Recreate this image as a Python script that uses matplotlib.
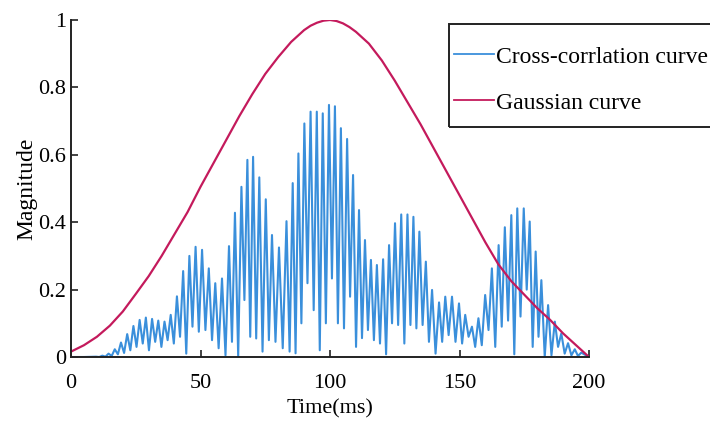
import matplotlib
matplotlib.use("Agg")
import matplotlib.pyplot as plt
from matplotlib.patches import Rectangle
import numpy as np

# cross-correlation curve: local maxima
peak_t = [9.7, 12.1, 14.5, 16.9, 19.3, 21.7, 24.1, 26.5, 28.9, 31.3, 33.7, 36.1,
          38.5, 40.9, 43.3, 45.7, 48.1, 50.6, 53.2, 55.7, 58.3, 61.0, 63.3, 65.8,
          68.1, 70.3, 72.7, 75.2, 77.6, 80.3, 83.2, 85.6, 87.8, 90.1, 92.5, 94.9,
          97.2, 99.6, 101.9, 104.2, 106.6, 108.9, 111.2, 113.5, 115.8, 118.1, 120.5,
          122.8, 125.1, 127.5, 129.9, 132.2, 134.5, 137.0, 139.4, 142.1, 144.5,
          147.1, 149.8, 152.2, 154.8, 157.3, 159.9, 162.5, 165.1, 167.5, 170.0,
          172.3, 174.8, 177.1, 179.4, 181.6, 184.2, 186.8, 189.3, 191.9, 194.5, 197.0]
peak_v = [0.001, 0.004, 0.010, 0.023, 0.043, 0.068, 0.092, 0.110, 0.117, 0.113,
          0.108, 0.105, 0.125, 0.180, 0.255, 0.300, 0.327, 0.318, 0.263, 0.219,
          0.233, 0.329, 0.428, 0.505, 0.585, 0.594, 0.533, 0.468, 0.362, 0.325,
          0.403, 0.516, 0.604, 0.693, 0.728, 0.728, 0.723, 0.748, 0.744, 0.679,
          0.647, 0.540, 0.436, 0.347, 0.288, 0.273, 0.290, 0.332, 0.397, 0.423,
          0.423, 0.416, 0.372, 0.283, 0.199, 0.162, 0.179, 0.179, 0.159, 0.125,
          0.090, 0.115, 0.184, 0.263, 0.332, 0.385, 0.421, 0.441, 0.441, 0.402,
          0.313, 0.228, 0.154, 0.105, 0.070, 0.041, 0.023, 0.013]

# local minima between the maxima
trough_t = [0.0, 5.0, 10.9, 13.3, 15.7, 18.1, 20.5, 22.9, 25.3, 27.7, 30.1, 32.5,
            34.9, 37.3, 39.7, 42.1, 44.5, 46.9, 49.35, 51.9, 54.45, 57.0, 59.65,
            62.15, 64.55, 66.95, 69.2, 71.5, 73.95, 76.4, 78.95, 81.75, 84.4, 86.7,
            88.95, 91.3, 93.7, 96.05, 98.4, 100.75, 103.05, 105.4, 107.75, 110.05,
            112.35, 114.65, 116.95, 119.3, 121.65, 123.95, 126.3, 128.7, 131.05,
            133.35, 135.75, 138.2, 140.75, 143.3, 145.8, 148.45, 151.0, 153.5,
            156.05, 158.6, 161.2, 163.8, 166.3, 168.75, 171.15, 173.55, 175.95,
            178.25, 180.5, 182.9, 185.5, 188.05, 190.6, 193.2, 195.75, 200.0]
trough_v = [0.0, 0.0, 0.0, 0.001, 0.003, 0.008, 0.012, 0.02, 0.03, 0.04, 0.02,
            0.045, 0.03, 0.05, 0.04, 0.06, 0.01, 0.09, 0.075, 0.08, 0.05, 0.026,
            0.005, 0.045, 0.001, 0.169, 0.06, 0.055, 0.016, 0.05, 0.045, 0.026,
            0.016, 0.011, 0.10, 0.219, 0.139, 0.02, 0.10, 0.233, 0.10, 0.085,
            0.179, 0.03, 0.056, 0.08, 0.05, 0.04, 0.008, 0.10, 0.095, 0.04, 0.095,
            0.085, 0.095, 0.045, 0.01, 0.045, 0.065, 0.045, 0.04, 0.06, 0.03,
            0.035, 0.08, 0.03, 0.09, 0.108, 0.008, 0.12, 0.20, 0.03, 0.06, 0.0,
            0.005, 0.03, 0.01, 0.005, 0.003, 0.0]

# Gaussian curve
gauss_t = [0, 5, 10, 15, 20, 25, 30, 35, 40, 45, 50, 55, 60, 65, 70, 75, 80, 85,
           90, 92.5, 95, 97.5, 100, 102.5, 105, 107.5, 110, 115, 120, 125, 130, 135,
           140, 145, 150, 155, 160, 165, 170, 175, 180, 185, 190, 195, 200]
gauss_v = [0.016, 0.035, 0.06, 0.093, 0.135, 0.187, 0.24, 0.30, 0.365, 0.43, 0.505,
           0.575, 0.645, 0.715, 0.78, 0.84, 0.89, 0.935, 0.97, 0.983, 0.992, 0.998,
           1.0, 0.997, 0.99, 0.979, 0.965, 0.93, 0.88, 0.82, 0.755, 0.69, 0.62,
           0.55, 0.48, 0.41, 0.34, 0.275, 0.225, 0.185, 0.145, 0.11, 0.07, 0.035,
           0.0]

BLUE = "#3A8FDB"
RED = "#C41A5C"


def main():
    plt.rcParams["font.family"] = ["Liberation Serif", "DejaVu Serif"]

    t = np.array(peak_t + trough_t)
    v = np.array(peak_v + trough_v)
    order = np.argsort(t)

    fig = plt.figure(figsize=(7.1, 4.21), dpi=100)
    ax = fig.add_axes([0.1, 0.152, 0.7296, 0.8005])
    ax.plot(t[order], v[order], color=BLUE, linewidth=1.5,
            label="Cross-corrlation curve")
    ax.plot(gauss_t, gauss_v, color=RED, linewidth=1.6, label="Gaussian curve")

    ax.set_xlim(0, 200)
    ax.set_ylim(0, 1)
    ax.set_xticks([0, 50, 100, 150, 200])
    ax.set_yticks([0, 0.2, 0.4, 0.6, 0.8, 1])
    ax.set_yticklabels(["0", "0.2", "0.4", "0.6", "0.8", "1"])
    ax.tick_params(direction="in", length=5, width=1.2, labelsize=16,
                   colors="#222222", labelcolor="black")
    ax.tick_params(axis="x", pad=12)
    ax.spines[["top", "right"]].set_visible(False)
    for s in ("left", "bottom"):
        ax.spines[s].set_linewidth(1.4)
        ax.spines[s].set_color("#222222")
    ax.set_xlabel("Time(ms)", fontsize=16, labelpad=5)
    ax.set_ylabel("Magnitude", fontsize=17, labelpad=1)

    # legend entries without frame, box drawn separately (runs past the edge)
    leg = ax.legend(loc="upper left", bbox_to_anchor=(454 / 710, 1 - 46 / 421),
                    bbox_transform=fig.transFigure, fontsize=17, frameon=False,
                    handlelength=1.7, handletextpad=0.1, labelspacing=1.04,
                    borderpad=0, borderaxespad=0)
    for line in leg.get_lines():
        line.set_linewidth(1.3)
    fig.add_artist(Rectangle((449 / 710, 1 - 127 / 421), 280 / 710, 103 / 421,
                             transform=fig.transFigure, fill=False,
                             edgecolor="#222222", linewidth=1.4))

    fig.savefig("out.png", dpi=100)
    plt.close(fig)


if __name__ == "__main__":
    main()
